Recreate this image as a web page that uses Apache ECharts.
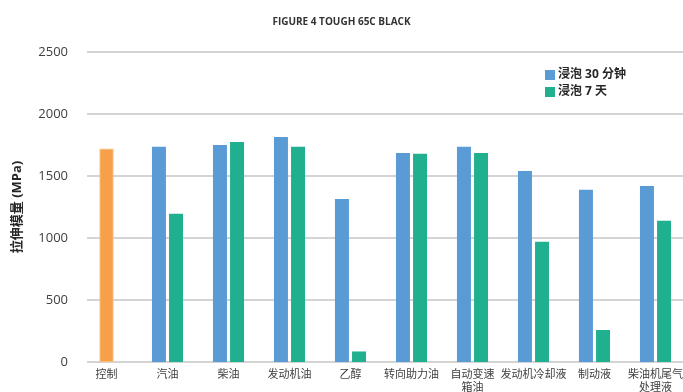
<!DOCTYPE html>
<html>
<head>
<meta charset="utf-8">
<script src="https://cdn.jsdelivr.net/npm/echarts@6/dist/echarts.min.js"></script>
<style>
  html, body { margin: 0; padding: 0; background: #fff; }
  #chart { width: 683px; height: 392px; }
</style>
</head>
<body>
<div id="chart"></div>
<script>
// Fluids the samples were soaked in
const categories = ['控制', '汽油', '柴油', '发动机油', '乙醇', '转向助力油', '自动变速\n箱油', '发动机冷却液', '制动液', '柴油机尾气\n处理液'];
// Tensile modulus (MPa) of the unsoaked control
const controlValues = [1720, '-', '-', '-', '-', '-', '-', '-', '-', '-'];
// Tensile modulus (MPa) after a 30 minute soak
const soak30min = ['-', 1735, 1750, 1815, 1315, 1685, 1735, 1540, 1390, 1420];
// Tensile modulus (MPa) after a 7 day soak
const soak7day = ['-', 1195, 1775, 1735, 85, 1680, 1685, 970, 258, 1140];
const yTicks = { min: 0, max: 2500, interval: 500 };

const font = '"Open Sans", "Noto Sans CJK SC", sans-serif';
const chart = echarts.init(document.getElementById('chart'), null, { renderer: 'canvas' });

chart.setOption({
  animation: false,
  textStyle: { fontFamily: font },
  title: {
    text: 'FIGURE 4 TOUGH 65C BLACK',
    left: 'center',
    top: 12,
    textStyle: { fontSize: 10, fontWeight: 'bold', color: '#333333', fontFamily: font }
  },
  legend: {
    data: ['浸泡 30 分钟', '浸泡 7 天'],
    orient: 'vertical',
    left: 540,
    top: 64,
    itemWidth: 10,
    itemHeight: 10,
    itemGap: 5,
    icon: 'rect',
    textStyle: { fontSize: 12, fontWeight: 'bold', color: '#262626', fontFamily: font, padding: [0, 0, 0, -2] }
  },
  grid: [
    { left: 87, right: 0, top: 52, bottom: 30, outerBoundsMode: 'none', containLabel: false },
    { left: 76, right: -3, top: 52, bottom: 30, outerBoundsMode: 'none', containLabel: false }
  ],
  xAxis: [
    { gridIndex: 0, type: 'category', data: categories, show: false },
    {
      gridIndex: 1, type: 'category', data: categories,
      axisLine: { show: false },
      axisTick: { show: false },
      axisLabel: { fontSize: 11, color: '#404040', margin: 6, lineHeight: 13, interval: 0, fontFamily: font }
    },
    { gridIndex: 1, type: 'category', data: categories, show: false }
  ],
  yAxis: [
    {
      gridIndex: 0, type: 'value', min: yTicks.min, max: yTicks.max, interval: yTicks.interval,
      name: '拉伸模量 (MPa)',
      nameLocation: 'middle',
      nameGap: 63,
      nameTextStyle: { fontSize: 13, fontWeight: 'bold', color: '#262626', fontFamily: font },
      axisLine: { show: false },
      axisTick: { show: false },
      axisLabel: { fontSize: 13, color: '#404040', margin: 19, fontFamily: font, formatter: v => String(v) },
      splitLine: { lineStyle: { color: '#D4D4D4', width: 2 } }
    },
    {
      gridIndex: 1, type: 'value', min: yTicks.min, max: yTicks.max, interval: yTicks.interval,
      show: false, splitLine: { show: false }
    }
  ],
  series: [
    {
      name: '控制', type: 'bar', xAxisIndex: 2, yAxisIndex: 1,
      data: controlValues, barWidth: 14,
      itemStyle: { color: '#F7A04A', borderColor: '#F9BB7E', borderWidth: 1 }
    },
    {
      name: '浸泡 30 分钟', type: 'bar', xAxisIndex: 1, yAxisIndex: 1,
      data: soak30min, barWidth: 14, barGap: '22%',
      itemStyle: { color: '#5B9BD5' }
    },
    {
      name: '浸泡 7 天', type: 'bar', xAxisIndex: 1, yAxisIndex: 1,
      data: soak7day, barWidth: 14, barGap: '22%',
      itemStyle: { color: '#20B08F' }
    }
  ]
});
</script>
</body>
</html>
